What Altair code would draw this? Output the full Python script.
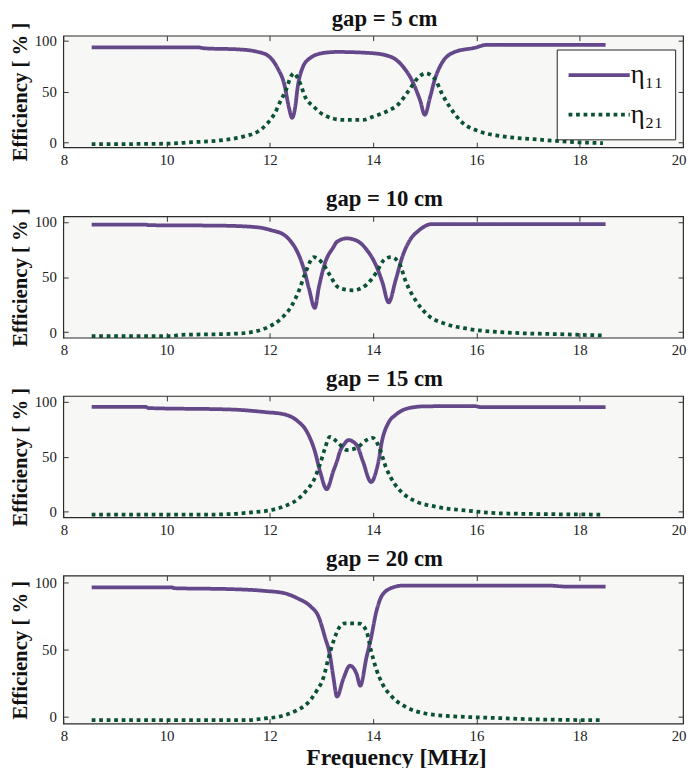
import altair as alt
import pandas as pd

# ---------------- data ----------------
series_names = ["η₁₁", "η₂₁"]
gaps = ["gap = 5 cm", "gap = 10 cm", "gap = 15 cm", "gap = 20 cm"]
x_ticks = [8, 10, 12, 14, 16, 18, 20]
y_ticks = [0, 50, 100]

# gap = 5 cm
f11_g5 = [8.55, 9.5, 10.6, 10.75, 11.4, 11.77, 11.96, 12.15, 12.28, 12.37, 12.43, 12.5, 12.53, 12.63, 12.78, 13.04,
          13.3, 13.92, 14.3, 14.57, 14.76, 14.91, 15.0, 15.1, 15.2, 15.33, 15.58, 15.96, 16.2, 18.5]
e11_g5 = [93.5, 93.5, 93.5, 92.5, 91.5, 89, 85.5, 73, 57, 34, 24, 38, 51, 73, 83, 88,
          89, 88, 85, 75, 60, 41, 27, 44, 63, 78, 89, 93, 96, 96]
f21_g5 = [8.55, 10.0, 10.5, 11.0, 11.52, 11.77, 11.96, 12.09, 12.21, 12.31, 12.41, 12.46, 12.57, 12.69, 12.85, 13.04,
          13.42, 13.8, 13.99, 14.25, 14.5, 14.69, 14.88, 15.01, 15.2, 15.33, 15.52, 15.71, 16.03, 16.47, 17.1, 17.74, 18.45]
e21_g5 = [-2, -1.5, 0, 1.5, 6, 10.5, 19, 28, 41, 51, 65, 68, 60, 44, 35, 27,
          22, 22, 25, 30, 38, 51, 64, 68, 62, 48, 32, 20, 11, 6, 3, 0.5, -1]

# gap = 10 cm
f11_g10 = [8.55, 9.6, 9.65, 11.1, 11.77, 12.02, 12.28, 12.41, 12.53, 12.66, 12.76, 12.87, 12.95, 13.07, 13.23, 13.3,
           13.49, 13.68, 13.87, 14.06, 14.18, 14.3, 14.44, 14.57, 14.72, 14.88, 15.14, 18.5]
e11_g10 = [97.5, 97.5, 97, 96.5, 95, 92.5, 88, 82, 73, 57, 39, 22, 41, 63, 77, 82,
           85, 83, 75, 60, 45, 27, 48, 69, 84, 92, 98, 98]
f21_g10 = [8.55, 10.1, 10.25, 11.26, 11.64, 11.96, 12.21, 12.41, 12.57, 12.69, 12.85, 13.01, 13.17, 13.3, 13.42, 13.61,
           13.87, 14.06, 14.22, 14.34, 14.5, 14.63, 14.82, 15.07, 15.39, 15.84, 16.47, 17.74, 18.45]
e21_g10 = [-3.5, -3.5, -2.5, -1.5, 0, 4.5, 12, 23, 38.5, 54, 68, 63, 51, 41.5, 39, 38,
           43, 54, 66, 68, 63, 46, 29, 15, 7.7, 3, 0, -2, -3]

# gap = 15 cm
f11_g15 = [8.55, 9.6, 9.65, 11.26, 11.9, 12.28, 12.53, 12.72, 12.87, 12.97, 13.1, 13.23, 13.3, 13.36, 13.45, 13.52,
           13.68, 13.8, 13.96, 14.09, 14.18, 14.3, 14.44, 14.69, 15.01, 15.96, 16.09, 18.5]
e11_g15 = [95, 95, 94, 92.7, 90.4, 88.3, 82.5, 72.3, 55, 37, 20.5, 37, 46, 55, 62, 65,
           60.6, 46, 27, 43, 66, 81, 88, 94, 95.6, 95.8, 94.8, 94.8]
f21_g15 = [8.55, 10.8, 11.26, 11.64, 11.96, 12.28, 12.53, 12.72, 12.85, 12.97, 13.07, 13.16, 13.3, 13.49, 13.68, 13.87,
           13.99, 14.12, 14.25, 14.41, 14.57, 14.82, 15.2, 15.84, 16.47, 18.45]
e21_g15 = [-2.5, -2.5, -2, -0.5, 1, 5, 11, 20, 28.6, 43, 58, 68, 63.5, 56, 58, 65,
           67, 58, 40, 25.7, 17, 9.6, 4.7, 1, -1.4, -2.5]

# gap = 20 cm
f11_g20 = [8.55, 10.1, 10.15, 11.26, 11.9, 12.28, 12.53, 12.79, 12.94, 13.07, 13.16, 13.23, 13.3, 13.42, 13.55, 13.68,
           13.75, 13.87, 13.96, 14.06, 14.18, 14.37, 14.57, 17.42, 17.74, 18.5]
e11_g20 = [96.3, 96.3, 95.6, 94.9, 93.6, 91.9, 88.2, 82, 74.7, 58.8, 46.5, 29.4, 15, 28, 38, 31.8,
           23.2, 44, 58.8, 78, 90.7, 96, 97.5, 97.5, 96.8, 96.8]
f21_g20 = [8.55, 11.5, 11.9, 12.21, 12.53, 12.72, 12.91, 13.04, 13.13, 13.23, 13.36, 13.45, 13.74, 13.87, 13.96, 14.06,
           14.18, 14.37, 14.63, 15.01, 15.52, 16.15, 17.1, 18.45]
e21_g20 = [-2.5, -2.5, -1.2, 0.5, 5, 9.8, 19.6, 29.4, 43, 56, 67.4, 69.5, 69.3, 63.7, 49, 35.5,
           24.5, 14.7, 7.4, 2.5, 0.5, -0.5, -1.8, -2.5]

panels = [
    (gaps[0], f11_g5, e11_g5, f21_g5, e21_g5),
    (gaps[1], f11_g10, e11_g10, f21_g10, e21_g10),
    (gaps[2], f11_g15, e11_g15, f21_g15, e21_g15),
    (gaps[3], f11_g20, e11_g20, f21_g20, e21_g20),
]

# ---------------- styling ----------------
PURPLE = "#65488a"
GREEN = "#0b5234"
SERIF = "Liberation Serif"
heights = [113, 123, 123, 150]
legend_y = [14, 16, 17, 17]
WIDTH = 628


def make_panel(i):
    title, f11, e11, f21, e21 = panels[i]
    df = pd.concat([
        pd.DataFrame({"f": f11, "eff": e11, "series": series_names[0]}),
        pd.DataFrame({"f": f21, "eff": e21, "series": series_names[1]}),
    ], ignore_index=True)
    last = i == len(panels) - 1
    xscale = alt.Scale(domain=[8, 20], nice=False)
    yscale = alt.Scale(domain=[-5, 105], nice=False)
    leg = alt.Legend(
        title=None, orient="none", legendX=500, legendY=legend_y[i], direction="vertical",
        fillColor="white", strokeColor="#222", padding=12,
        symbolType="M-1.1667,0H4.0", symbolSize=576, symbolStrokeWidth=3.8, symbolOffset=0,
        labelFont=SERIF, labelFontSize=27, labelColor="#111", labelOffset=35, rowPadding=13,
    )
    common = dict(labelFont=SERIF, labelFontSize=15, labelColor="#222",
                  titleFont=SERIF, titleFontWeight="bold", titleColor="#111",
                  domain=False, grid=False, ticks=True, tickSize=5, offset=-5,
                  tickColor="#333", tickWidth=1)
    x_axis = alt.Axis(
        values=x_ticks, orient="bottom", labelPadding=5, labelFlush=True, labelFlushOffset=3,
        title="Frequency [MHz]" if last else None, titleFontSize=24, titleX=337,
        titleBaseline="alphabetic", titlePadding=21, **common,
    )
    y_axis = alt.Axis(values=y_ticks, orient="left", labelPadding=7, title="Efficiency [ % ]",
                      titleFontSize=21, titlePadding=4, **common)
    lines = alt.Chart(df).mark_line(interpolate="monotone", strokeWidth=3.8).encode(
        x=alt.X("f:Q", scale=xscale, axis=x_axis),
        y=alt.Y("eff:Q", scale=yscale, axis=y_axis),
        color=alt.Color("series:N", scale=alt.Scale(domain=series_names, range=[PURPLE, GREEN]), legend=leg),
        strokeDash=alt.StrokeDash("series:N", scale=alt.Scale(domain=series_names, range=[[1, 0], [3.8, 3.8]]),
                                  legend=leg),
    )
    # top / right frame ticks; the panel title sits on the top axis
    frame = alt.Chart(df).mark_line(opacity=0).encode(
        x=alt.X("f:Q", scale=xscale,
                axis=alt.Axis(values=x_ticks, orient="top", labels=False, title=title,
                              titleFontSize=23, titleX=WIDTH / 2 + 11, titlePadding=5, **common)),
        y=alt.Y("eff:Q", scale=yscale,
                axis=alt.Axis(values=y_ticks, orient="right", labels=False, title=None, **common)),
    )
    return alt.layer(lines, frame).resolve_axis(x="independent", y="independent").properties(
        width=WIDTH, height=heights[i],
    )


p = [make_panel(i) for i in range(4)]
inner = alt.vconcat(p[1], p[2], p[3], spacing=59, bounds="flush")
chart = alt.vconcat(p[0], inner, spacing=70, bounds="flush").properties(
    padding={"top": -7, "left": 0, "right": 0, "bottom": 0}
).configure_view(fill="#f7f7f5", stroke="#2a2a2a", strokeWidth=1.2)

chart.save("out.html", embed_options={"renderer": "svg", "actions": False})
